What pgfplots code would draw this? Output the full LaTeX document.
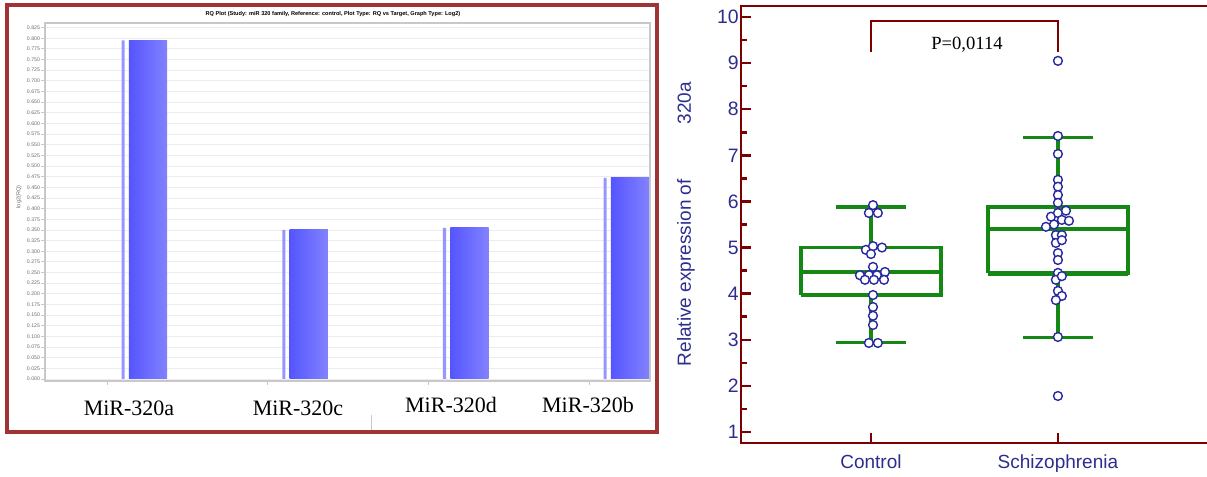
\documentclass[border=0pt]{standalone}
\usepackage{fontspec}
\setmainfont{Liberation Sans}
\newfontfamily\seriffont{Liberation Serif}
\usepackage{pgfplots}
\pgfplotsset{compat=1.18}
\definecolor{frameRed}{RGB}{160,52,52}
\definecolor{maroonAx}{RGB}{125,0,0}
\definecolor{navyT}{RGB}{45,45,145}
\definecolor{boxGreen}{RGB}{20,135,20}
\definecolor{ptBlue}{RGB}{40,40,160}
\definecolor{barL}{RGB}{85,85,255}
\definecolor{barR}{RGB}{130,130,255}
\definecolor{stripC}{RGB}{150,150,255}
\definecolor{gridG}{RGB}{236,236,236}
\definecolor{axG}{RGB}{200,200,200}
\definecolor{tickG}{RGB}{110,110,110}
\begin{document}
\begin{tikzpicture}[x=1pt,y=1pt]
% ---------------- left panel ----------------
\draw[frameRed, line width=2.2pt] (3.5,22.5) rectangle (328.5,236);
\begin{axis}[at={(22.5pt,48pt)}, anchor=south west, scale only axis,
  width=302.5pt, height=179pt,
  xmin=-0.386, xmax=3.379, ymin=-0.0047, ymax=0.8358,
  axis line style={axG, line width=0.6pt},
  ytick={0,0.025,0.05,0.075,0.1,0.125,0.15,0.175,0.2,0.225,0.25,0.275,0.3,0.325,0.35,0.375,0.4,0.425,0.45,0.475,0.5,0.525,0.55,0.575,0.6,0.625,0.65,0.675,0.7,0.725,0.75,0.775,0.8,0.825},
  yticklabel style={font=\fontsize{2.6}{3}\selectfont, text=tickG, inner sep=0.5pt},
  /pgf/number format/fixed, /pgf/number format/fixed zerofill, /pgf/number format/precision=3,
  /pgf/number format/assume math mode=true,
  ymajorgrids, grid style={gridG, line width=0.4pt},
  xtick={0,1,2,3}, xticklabels={},
  tick align=outside, major tick length=1.8pt, tick style={axG, line width=0.4pt},
  xtick pos=bottom, ytick pos=left,
  clip=false]
\addplot[ybar, bar width=0.019, bar shift=0pt, draw=none, fill=stripC] coordinates {(0.1,0.795)(1.1,0.350)(2.1,0.355)(3.1,0.472)};
\addplot[ybar, bar width=0.238, bar shift=0pt, draw=none, left color=barL, right color=barR] coordinates {(0.255,0.795)};
\addplot[ybar, bar width=0.238, bar shift=0pt, draw=none, left color=barL, right color=barR] coordinates {(1.255,0.350)};
\addplot[ybar, bar width=0.238, bar shift=0pt, draw=none, left color=barL, right color=barR] coordinates {(2.255,0.355)};
\addplot[ybar, bar width=0.238, bar shift=0pt, draw=none, left color=barL, right color=barR] coordinates {(3.255,0.472)};
\end{axis}
\node[rotate=90, font=\fontsize{2.8}{3}\selectfont, text=tickG] at (9.5,140) {log2(RQ)};
\node[font=\bfseries\fontsize{2.8}{3}\selectfont] at (166.5,231.5) {RQ Plot (Study: miR 320 family, Reference: control, Plot Type: RQ vs Target, Graph Type: Log2)};
\node[font=\seriffont\fontsize{11}{12}\selectfont] at (64.5,34.5) {MiR-320a};
\node[font=\seriffont\fontsize{11}{12}\selectfont] at (149,34.5) {MiR-320c};
\node[font=\seriffont\fontsize{11}{12}\selectfont] at (225.5,36) {MiR-320d};
\node[font=\seriffont\fontsize{11}{12}\selectfont] at (294,36) {MiR-320b};
\draw[axG, line width=0.4pt] (185.5,31) -- (185.5,23.5);
% ---------------- right panel ----------------
\begin{axis}[at={(370.5pt,17pt)}, anchor=south west, scale only axis,
  width=237pt, height=218.5pt,
  xmin=0.305, xmax=2.84, ymin=0.76, ymax=10.24,
  axis line style={maroonAx, line width=1.4pt},
  ytick={1,2,3,4,5,6,7,8,9,10}, minor ytick={1.5,2.5,3.5,4.5,5.5,6.5,7.5,8.5,9.5},
  xtick={1,2}, xticklabels={Control,Schizophrenia},
  tick align=inside, major tick length=4.8pt, minor tick length=3pt,
  tick style={maroonAx, line width=1.2pt},
  xtick pos=bottom, ytick pos=left,
  /pgf/number format/assume math mode=true,
  yticklabel style={font=\fontsize{9.7}{11}\selectfont, text=navyT, inner sep=0pt, xshift=-1pt},
  xticklabel style={font=\fontsize{9.5}{11}\selectfont, text=navyT, inner sep=0pt, yshift=-5.5pt},
  clip=false]
\addplot[maroonAx, line width=1.2pt] coordinates {(1,9.24)(1,9.92)(2,9.92)(2,9.24)};
% Control box
\addplot[boxGreen, line width=1.7pt] coordinates {(0.625,3.97)(1.375,3.97)(1.375,5.0)(0.625,5.0)(0.625,3.97)};
\addplot[boxGreen, line width=2.4pt] coordinates {(0.625,3.97)(1.375,3.97)};
\addplot[boxGreen, line width=1.7pt] coordinates {(0.625,4.47)(1.375,4.47)};
\addplot[boxGreen, line width=1.7pt] coordinates {(1,5.0)(1,5.88)};
\addplot[boxGreen, line width=1.7pt] coordinates {(1,3.97)(1,2.94)};
\addplot[boxGreen, line width=1.7pt] coordinates {(0.813,5.88)(1.187,5.88)};
\addplot[boxGreen, line width=1.7pt] coordinates {(0.813,2.94)(1.187,2.94)};
% Schizophrenia box
\addplot[boxGreen, line width=1.7pt] coordinates {(1.625,4.44)(2.375,4.44)(2.375,5.88)(1.625,5.88)(1.625,4.44)};
\addplot[boxGreen, line width=2.4pt] coordinates {(1.625,4.44)(2.375,4.44)};
\addplot[boxGreen, line width=1.7pt] coordinates {(1.625,5.40)(2.375,5.40)};
\addplot[boxGreen, line width=1.7pt] coordinates {(2,5.88)(2,7.39)};
\addplot[boxGreen, line width=1.7pt] coordinates {(2,4.44)(2,3.05)};
\addplot[boxGreen, line width=1.7pt] coordinates {(1.813,7.39)(2.187,7.39)};
\addplot[boxGreen, line width=1.7pt] coordinates {(1.813,3.05)(2.187,3.05)};
\addplot[only marks, mark=*, mark size=2.2pt, mark options={draw=ptBlue, fill=white, line width=0.7pt}] coordinates {
(1.011,5.92)(0.989,5.75)(1.037,5.75)
(0.973,4.95)(1.011,5.03)(1.059,5.00)(1.000,4.86)
(1.011,4.58)(0.941,4.40)(0.989,4.40)(1.032,4.40)(1.075,4.47)(0.968,4.30)(1.016,4.30)(1.070,4.30)
(1.011,3.97)(1.011,3.71)(1.011,3.52)(1.011,3.32)(0.989,2.93)(1.037,2.93)
};
\addplot[only marks, mark=*, mark size=2.2pt, mark options={draw=ptBlue, fill=white, line width=0.7pt}] coordinates {
(2,9.05)(2,7.42)(2,7.03)(2,6.47)(2,6.32)(2,6.14)(2,5.97)
(1.963,5.67)(2,5.75)(2.043,5.80)(1.936,5.45)(1.979,5.50)(2.021,5.60)(2.059,5.58)
(1.989,5.27)(2.021,5.27)(1.989,5.10)(2.021,5.16)(2,4.88)(2,4.73)
(2,4.45)(1.989,4.30)(2.021,4.38)(2,4.06)(2.021,3.95)(1.989,3.86)(2,3.06)(2,1.78)
};
\end{axis}
\node[font=\seriffont\fontsize{9.3}{10}\selectfont] at (483.5,216) {P=0,0114};
\node[rotate=90, font=\fontsize{9.5}{11}\selectfont, text=navyT] at (343,126.5) {Relative expression of\hspace*{27.5pt}320a};
\pgfresetboundingbox
\useasboundingbox (0,0) rectangle (603.5,238.5);
\end{tikzpicture}
\end{document}
